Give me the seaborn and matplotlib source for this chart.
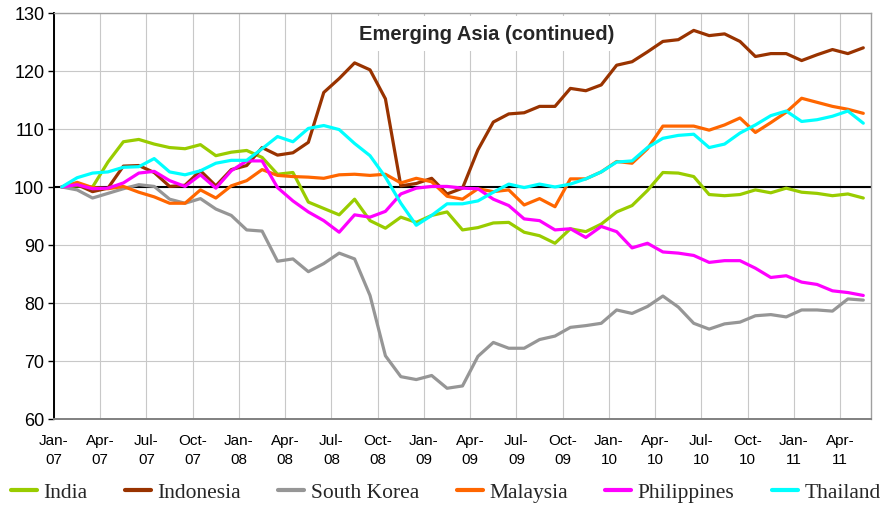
import numpy as np
import pandas as pd
import matplotlib
matplotlib.use("Agg")
import matplotlib.pyplot as plt
import seaborn as sns
from matplotlib.lines import Line2D
from matplotlib.transforms import ScaledTranslation

# monthly index, Jan-07 = 100, Jan-07 .. May-11
months = pd.date_range("2007-01-01", periods=53, freq="MS")

india = [100, 100.2, 100, 104.3, 107.8, 108.2, 107.4, 106.8, 106.6, 107.3,
         105.4, 106, 106.3, 105.1, 102.2, 102.5, 97.4, 96.3, 95.2, 97.9,
         94.2, 92.9, 94.8, 93.9, 95.1, 95.7, 92.6, 93, 93.8, 93.9,
         92.2, 91.6, 90.3, 92.8, 92.3, 93.6, 95.7, 96.8, 99.4, 102.5,
         102.4, 101.8, 98.7, 98.5, 98.7, 99.5, 99, 99.8, 99.1, 98.9,
         98.5, 98.8, 98.1]
indonesia = [100, 100.4, 99.2, 99.8, 103.6, 103.7, 102.5, 100.1, 100.3, 102.8,
             100.2, 103, 103.7, 106.8, 105.5, 105.9, 107.7, 116.3, 118.7, 121.4,
             120.2, 115.2, 100.2, 100.6, 101.5, 98.8, 99.8, 106.4, 111.2, 112.6,
             112.8, 113.9, 113.9, 117, 116.6, 117.6, 121, 121.6, 123.3, 125.1,
             125.4, 127, 126.1, 126.4, 125.1, 122.5, 123, 123, 121.8, 122.8,
             123.7, 123, 124]
south_korea = [100, 99.5, 98.1, 98.9, 99.7, 100.4, 100.1, 97.9, 97.2, 98,
               96.2, 95.1, 92.6, 92.4, 87.2, 87.6, 85.4, 86.8, 88.6, 87.6,
               81.3, 70.9, 67.3, 66.8, 67.5, 65.3, 65.7, 70.8, 73.2, 72.2,
               72.2, 73.7, 74.3, 75.8, 76.1, 76.5, 78.8, 78.2, 79.4, 81.2,
               79.3, 76.5, 75.5, 76.4, 76.7, 77.8, 78, 77.6, 78.8, 78.8,
               78.6, 80.7, 80.5]
malaysia = [100, 100.8, 99.9, 99.7, 100.1, 99.1, 98.3, 97.2, 97.2, 99.5,
            98.1, 100.2, 101.1, 103, 102, 101.8, 101.7, 101.5, 102.1, 102.2,
            102, 102.2, 100.7, 101.5, 100.9, 98.4, 97.9, 99.7, 99.2, 99.5,
            96.9, 98, 96.6, 101.4, 101.4, 102.6, 104.4, 104.1, 106.6, 110.5,
            110.5, 110.5, 109.8, 110.7, 111.9, 109.4, 111.1, 112.9, 115.3, 114.6,
            113.9, 113.4, 112.7]
philippines = [100, 100.4, 99.7, 99.8, 100.7, 102.4, 102.7, 101.1, 100.1, 102.1,
               99.8, 102.8, 104.5, 104.5, 99.9, 97.6, 95.7, 94.2, 92.2, 95.2,
               94.8, 95.8, 98.8, 99.8, 100.1, 100.1, 99.8, 99.7, 97.9, 96.8,
               94.5, 94.2, 92.6, 92.8, 91.3, 93.2, 92.3, 89.5, 90.3, 88.8,
               88.6, 88.2, 87, 87.3, 87.3, 86, 84.4, 84.7, 83.6, 83.2,
               82.1, 81.8, 81.3]
thailand = [100, 101.6, 102.4, 102.6, 103.4, 103.5, 104.9, 102.6, 102.1, 102.8,
            104.1, 104.6, 104.6, 106.6, 108.7, 107.8, 110.1, 110.6, 109.9, 107.5,
            105.4, 101.7, 97.2, 93.4, 95.1, 97.1, 97.1, 97.6, 99.1, 100.5,
            99.9, 100.5, 100, 100.5, 101.4, 102.6, 104.3, 104.5, 106.8, 108.4,
            108.9, 109.1, 106.8, 107.4, 109.3, 110.7, 112.3, 113.1, 111.3, 111.6,
            112.2, 113.1, 111]

countries = ["India", "Indonesia", "South Korea", "Malaysia", "Philippines", "Thailand"]
colors = ["#99CC00", "#993300", "#969696", "#FF6600", "#FF00FF", "#00FFFF"]
tick_labels = ["Jan-\n07", "Apr-\n07", "Jul-\n07", "Oct-\n07", "Jan-\n08", "Apr-\n08",
               "Jul-\n08", "Oct-\n08", "Jan-\n09", "Apr-\n09", "Jul-\n09", "Oct-\n09",
               "Jan-\n10", "Apr-\n10", "Jul-\n10", "Oct-\n10", "Jan-\n11", "Apr-\n11"]

wide = pd.DataFrame({"India": india, "Indonesia": indonesia, "South Korea": south_korea,
                     "Malaysia": malaysia, "Philippines": philippines, "Thailand": thailand})
wide["idx"] = np.arange(len(months))
df = wide.melt(id_vars="idx", var_name="country", value_name="value")

sns.set_theme(style="white")
plt.rcParams['font.family'] = ['Liberation Sans', 'DejaVu Sans']

fig = plt.figure(figsize=(8.86, 5.06), dpi=100)
ax = fig.add_axes([54/886, 1 - 420/506, (871 - 54)/886, (420 - 14)/506])

palette = dict(zip(countries, colors))
sns.lineplot(data=df, x="idx", y="value", hue="country", hue_order=countries,
             palette=palette, linewidth=2.3, ax=ax, legend=False, zorder=3)

ax.axhline(100, color="black", linewidth=1.5, zorder=2)

ax.set_xlim(-0.5, len(months) - 0.5)
ax.set_ylim(60, 130)
ax.set_yticks(range(60, 131, 10))
ax.set_xticks(np.arange(0, len(months) - 1, 3) - 0.5)
ax.set_xticklabels(tick_labels, fontsize=11, linespacing=1.45)
for lab in ax.get_xticklabels():
    lab.set_transform(lab.get_transform() + ScaledTranslation(3/100, 0, fig.dpi_scale_trans))
ax.tick_params(axis="y", labelsize=13, direction="out", length=4, width=1,
               color="black", left=True, pad=3, labelcolor="black")
ax.tick_params(axis="x", length=0, pad=10, labelcolor="black")
ax.set_xlabel("")
ax.set_ylabel("")

ax.grid(True, color="#c8c8c8", linewidth=0.8, zorder=0)
ax.set_axisbelow(True)
ax.spines["left"].set_color("black")
ax.spines["left"].set_linewidth(1.4)
ax.spines["bottom"].set_color("#808080")
ax.spines["bottom"].set_linewidth(1.4)
for s in ["top", "right"]:
    ax.spines[s].set_color("#a0a0a0")
    ax.spines[s].set_linewidth(1.0)

ax.text(0.53, 0.95, "Emerging Asia (continued)", transform=ax.transAxes,
        ha="center", va="center", fontsize=14.5, fontweight="bold", zorder=4,
        bbox=dict(facecolor="white", edgecolor="none", pad=6))

handles = [Line2D([0], [0], color=c, linewidth=3) for c in colors]
fig.legend(handles, countries, loc="center", bbox_to_anchor=(0.503, 1 - 493/506),
           ncol=6, frameon=False, handlelength=1.2, handletextpad=0.3,
           columnspacing=1.75, borderaxespad=0,
           prop=dict(family=['Liberation Serif', 'DejaVu Serif'], size=15.5))

fig.savefig("out.png", dpi=100)
